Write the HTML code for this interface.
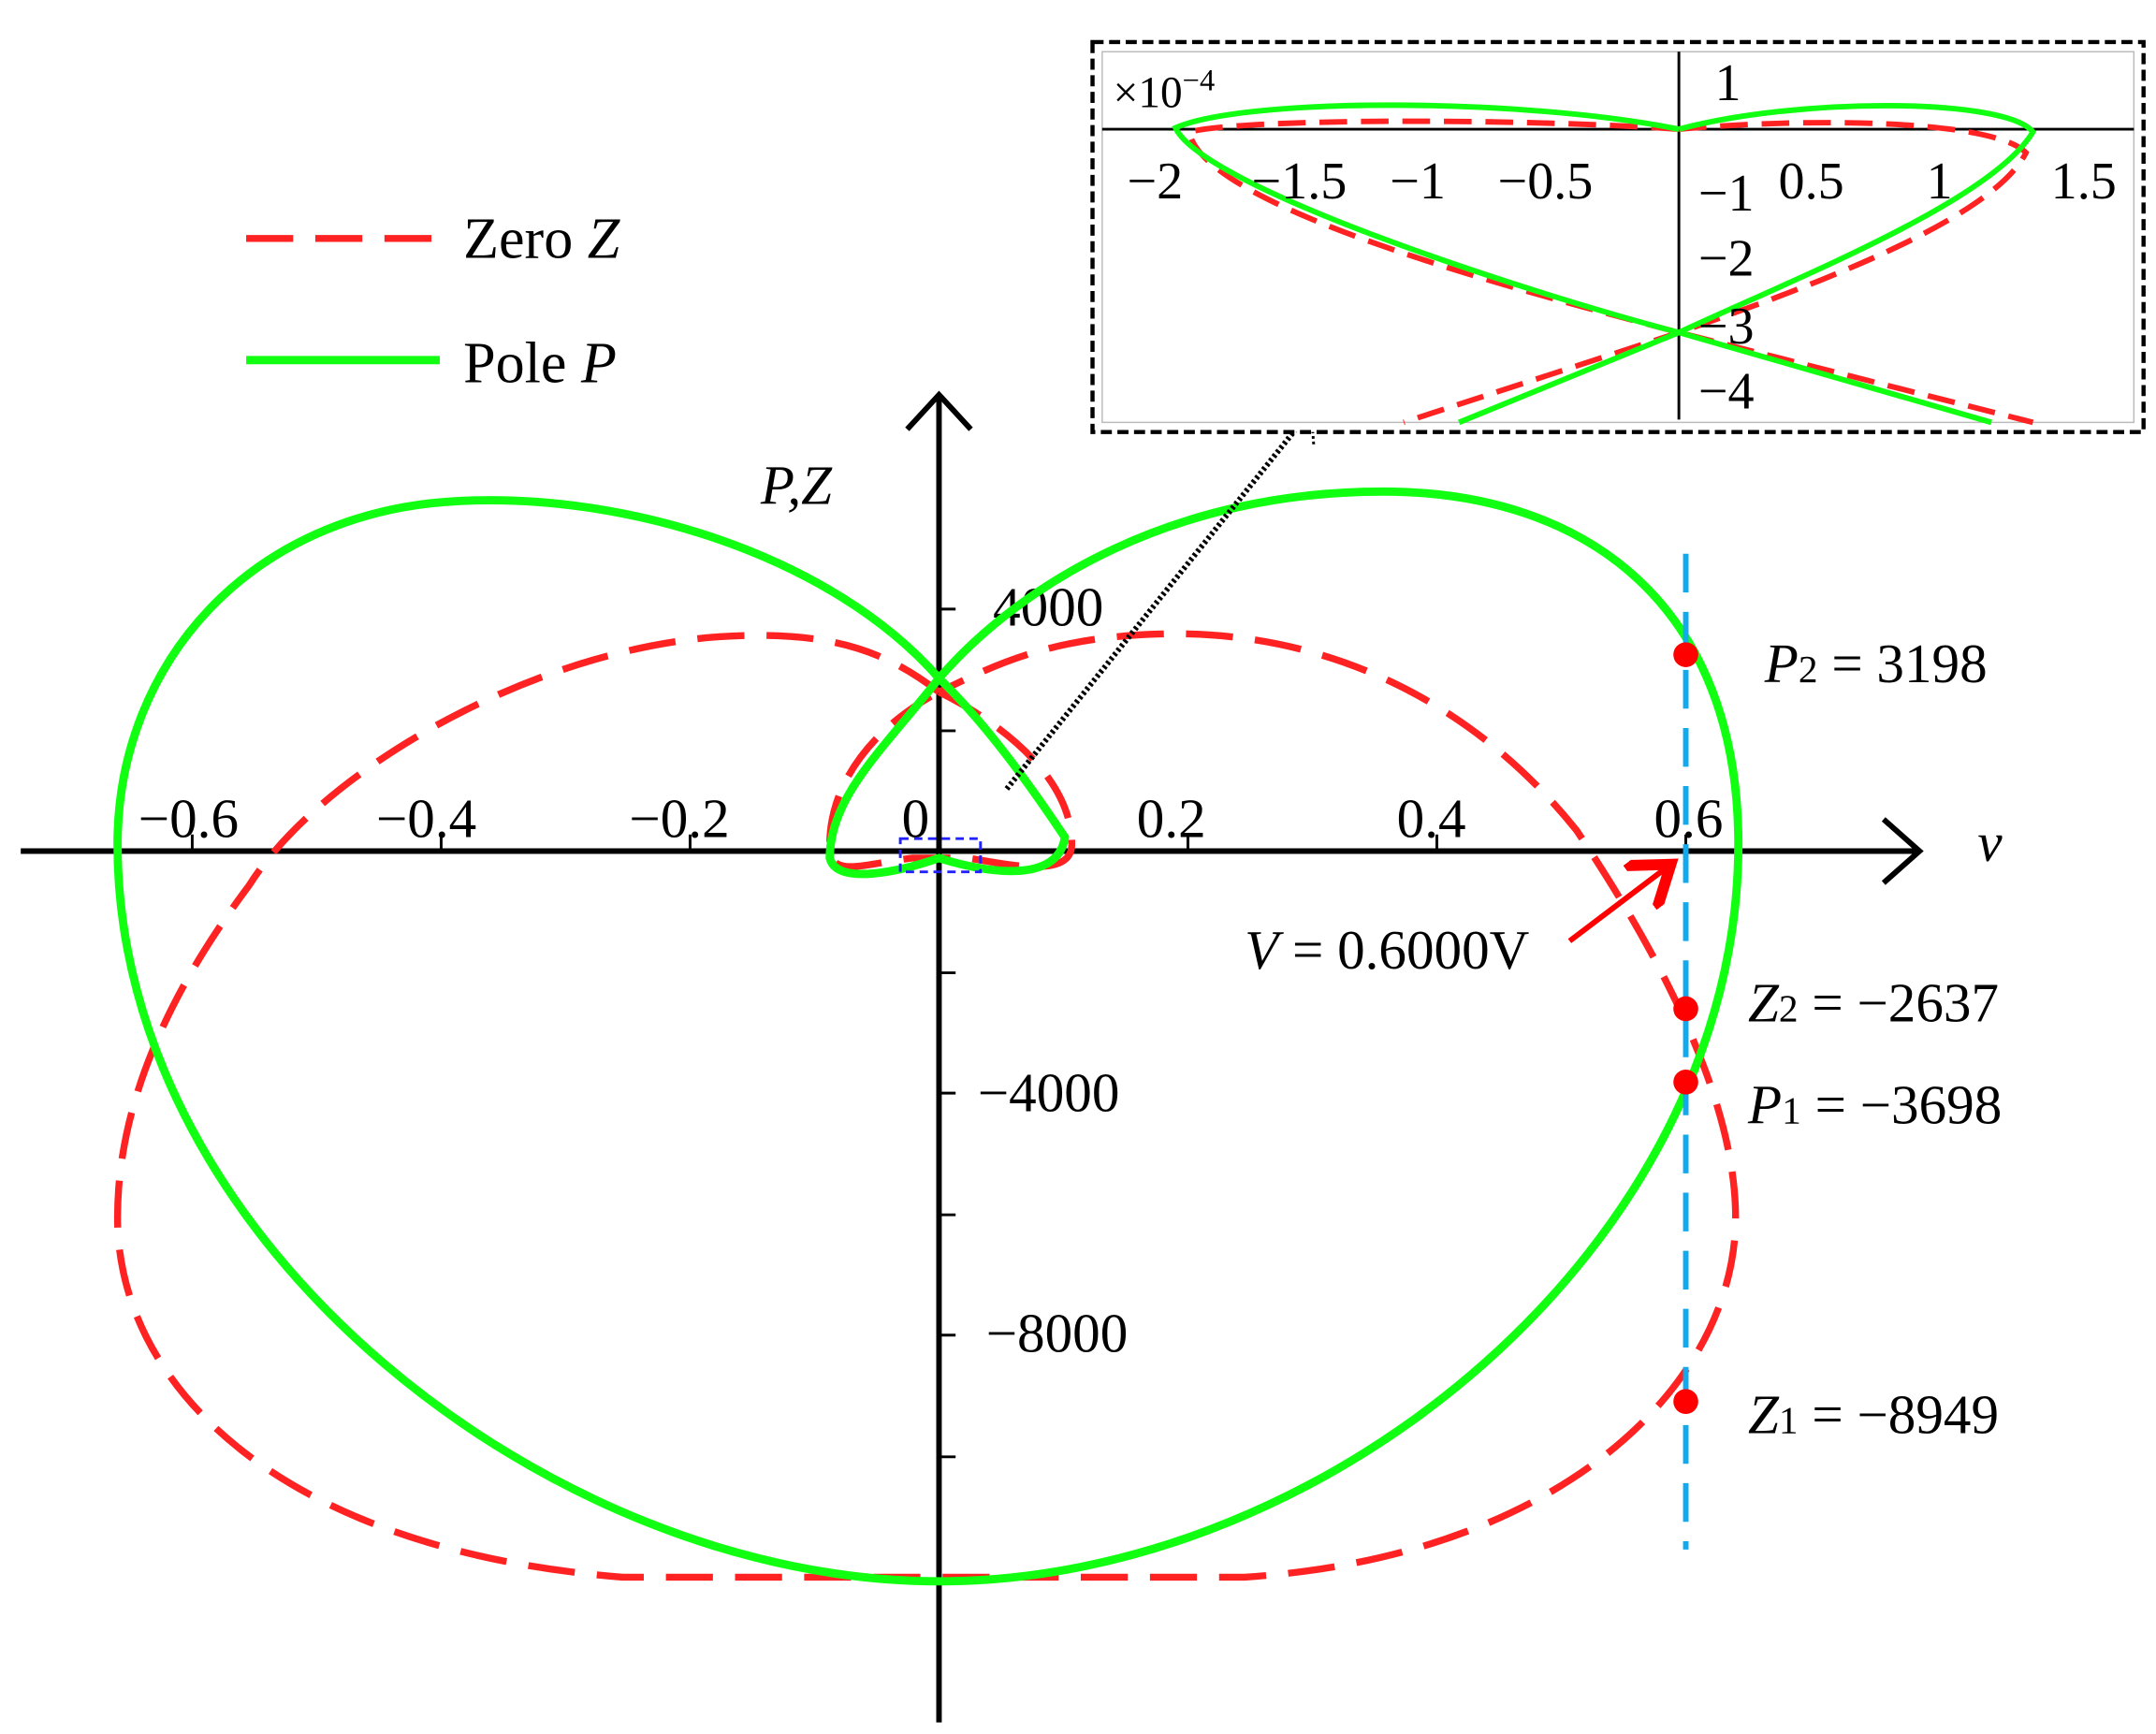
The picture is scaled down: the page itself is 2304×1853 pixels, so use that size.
<!DOCTYPE html>
<html><head><meta charset="utf-8"><style>html,body{margin:0;padding:0;background:#fff}svg{display:block}</style></head>
<body>
<svg width="2304" height="1853" viewBox="0 0 1559 1253" xmlns="http://www.w3.org/2000/svg" font-family="Liberation Serif, serif">
<defs>
<marker id="ah" markerWidth="10" markerHeight="10" refX="6" refY="5" orient="auto"><path d="M0,0 L7,5 L0,10" fill="none" stroke="red" stroke-width="2"/></marker>
</defs>
<line x1="15" y1="615" x2="1388" y2="615" stroke="#000" stroke-width="4"/>
<path d="M1362,592 L1388,615 L1362,638" fill="none" stroke="#000" stroke-width="4"/>
<line x1="679" y1="1245" x2="679" y2="285" stroke="#000" stroke-width="4"/>
<path d="M656,310 L679,285 L702,310" fill="none" stroke="#000" stroke-width="4"/>
<g stroke="#000" stroke-width="2">
<line x1="139" y1="615" x2="139" y2="603"/><line x1="319" y1="615" x2="319" y2="603"/><line x1="499" y1="615" x2="499" y2="603"/>
<line x1="859" y1="615" x2="859" y2="603"/><line x1="1039" y1="615" x2="1039" y2="603"/><line x1="1219" y1="615" x2="1219" y2="603"/>
<line x1="679" y1="528" x2="691" y2="528"/><line x1="679" y1="440" x2="691" y2="440"/><line x1="679" y1="703" x2="691" y2="703"/><line x1="679" y1="790" x2="691" y2="790"/><line x1="679" y1="878" x2="691" y2="878"/><line x1="679" y1="965" x2="691" y2="965"/><line x1="679" y1="1053" x2="691" y2="1053"/>
</g>
<g font-size="40" fill="#000">
<text x="100" y="605">−0.6</text><text x="272" y="605">−0.4</text><text x="455" y="605">−0.2</text><text x="652" y="605">0</text>
<text x="822" y="605">0.2</text><text x="1010" y="605">0.4</text><text x="1196" y="605">0.6</text>
<text x="718" y="452">4000</text><text x="707" y="803">−4000</text><text x="713" y="977">−8000</text>
<text x="1430" y="622" font-style="italic">v</text>
<text x="550" y="364" font-style="italic">P,Z</text>
</g>
<g fill="none" stroke="#f22" stroke-width="5" stroke-dasharray="34,16">
<path d="M679,500 C640,470 600,455 520,460 C380,470 230,560 180,640 C120,720 85,800 85,880 C85,1000 200,1120 450,1140 L900,1140 C1130,1125 1255,1000 1255,880 C1255,780 1180,660 1140,600 C1060,500 950,455 840,458 C760,460 720,480 679,500"/>
<path d="M679,500 C720,520 775,560 775,610 C775,635 730,625 700,620 L660,620 C620,625 600,635 600,610 C600,560 640,520 679,500"/>
</g>
<g fill="none" stroke="#1f1" stroke-width="6">
<path d="M679,490 C600,400 450,355 330,362 C180,370 85,480 85,610 C85,900 400,1143 679,1143 C960,1143 1257,900 1257,610 C1257,440 1150,355 1000,355 C850,355 740,420 679,490"/>
<path d="M679,490 C640,540 600,575 600,620 C605,640 650,630 679,620 C710,630 765,640 770,605 C740,560 710,520 679,490"/>
</g>
<rect x="651" y="606" width="58" height="24" fill="none" stroke="#22f" stroke-width="2" stroke-dasharray="6,4"/>
<line x1="1219" y1="400" x2="1219" y2="1120" stroke="#1ae" stroke-width="4" stroke-dasharray="28,14"/>
<g fill="red"><circle cx="1219" cy="473" r="9"/><circle cx="1219" cy="729" r="9"/><circle cx="1219" cy="782" r="9"/><circle cx="1219" cy="1013" r="9"/></g>
<g font-size="40" fill="#000">
<text x="1276" y="493"><tspan font-style="italic">P</tspan><tspan font-size="28">2</tspan> = 3198</text>
<text x="1264" y="738"><tspan font-style="italic">Z</tspan><tspan font-size="28">2</tspan> = −2637</text>
<text x="1264" y="812"><tspan font-style="italic">P</tspan><tspan font-size="28">1</tspan> = −3698</text>
<text x="1264" y="1036"><tspan font-style="italic">Z</tspan><tspan font-size="28">1</tspan> = −8949</text>
<text x="900" y="700"><tspan font-style="italic">V</tspan> = 0.6000V</text>
</g>
<line x1="1135" y1="680" x2="1205" y2="627" stroke="red" stroke-width="4" marker-end="url(#ah)"/>
<line x1="178" y1="172" x2="318" y2="172" stroke="#f22" stroke-width="5" stroke-dasharray="34,16"/>
<line x1="178" y1="260" x2="318" y2="260" stroke="#1f1" stroke-width="6"/>
<g font-size="42" fill="#000"><text x="335" y="186">Zero <tspan font-style="italic">Z</tspan></text><text x="335" y="276">Pole <tspan font-style="italic">P</tspan></text></g>
<line x1="728" y1="570" x2="945" y2="300" stroke="#000" stroke-width="4" stroke-dasharray="2,2"/>
<path d="M920,297 L948,295 L950,322" fill="none" stroke="#000" stroke-width="2" stroke-dasharray="2,2"/>
<rect x="790" y="30" width="760" height="282" fill="#fff" stroke="#000" stroke-width="3" stroke-dasharray="8,4"/>
<rect x="797" y="37" width="746" height="268" fill="none" stroke="#bbb" stroke-width="1"/>
<line x1="797" y1="93" x2="1543" y2="93" stroke="#000" stroke-width="2"/>
<line x1="1214" y1="37" x2="1214" y2="303" stroke="#000" stroke-width="2"/>
<g fill="none" stroke="#f22" stroke-width="4" stroke-dasharray="20,10">
<path d="M1214,93 C1100,85 900,85 860,95 C870,150 1100,210 1214,240 L1470,305"/>
<path d="M1214,93 C1300,85 1440,85 1465,110 C1440,160 1300,210 1214,240 L1015,305"/>
</g>
<g fill="none" stroke="#1f1" stroke-width="4">
<path d="M1214,93 C1100,70 900,70 850,92 C870,135 1100,210 1214,240 L1440,305"/>
<path d="M1214,93 C1300,70 1450,70 1470,95 C1440,145 1300,200 1214,240 L1055,305"/>
</g>
<g font-size="38" fill="#000">
<text x="805" y="77" font-size="32">×10<tspan font-size="22" dy="-12">−4</tspan></text>
<text x="1240" y="72">1</text>
<text x="815" y="143">−2</text><text x="905" y="143">−1.5</text><text x="1005" y="143">−1</text><text x="1083" y="143">−0.5</text>
<text x="1286" y="143">0.5</text><text x="1393" y="143">1</text><text x="1483" y="143">1.5</text>
<text x="1228" y="152">−1</text><text x="1228" y="199">−2</text><text x="1228" y="248">−3</text><text x="1228" y="295">−4</text>
</g>
</svg>
</body></html>
